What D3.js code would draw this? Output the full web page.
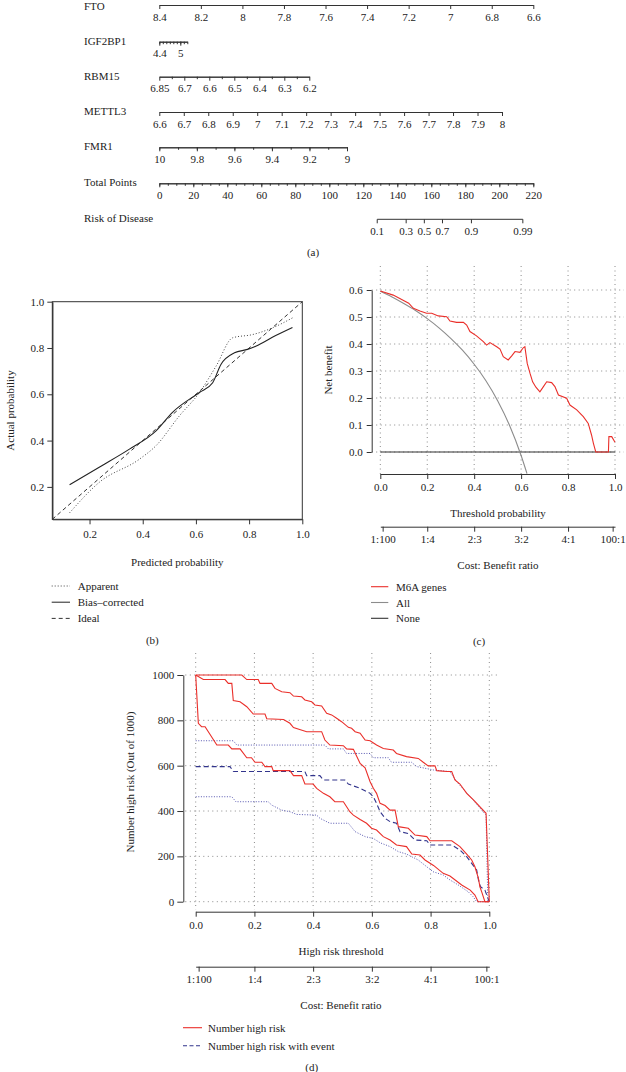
<!DOCTYPE html>
<html><head><meta charset="utf-8">
<script src="https://cdn.jsdelivr.net/npm/d3@7/dist/d3.min.js"></script>
<style>
html,body{margin:0;padding:0;background:#fff;}
svg text{font-family:"Liberation Serif","DejaVu Serif",serif;fill:#222;}
</style></head>
<body><svg id="c" width="626" height="1072"></svg>
<script>
// ---------- Panel (a) nomogram data ----------
const ftoTicks = [8.4,8.2,8.0,7.8,7.6,7.4,7.2,7.0,6.8,6.6];
const ftoLabels = ["8.4","8.2","8","7.8","7.6","7.4","7.2","7","6.8","6.6"];
const igfTicks = [4.4,4.5,4.6,4.7,4.8,4.9,5.0,5.1,5.2];
const igfLabelVals = [4.4,5.0];
const igfLabels = ["4.4","5"];
const rbmMajor = [6.8,6.7,6.6,6.5,6.4,6.3,6.2];
const rbmLabels = ["6.85","6.7","6.6","6.5","6.4","6.3","6.2"];
const rbmMinor = [6.75,6.65,6.55,6.45,6.35,6.25];
const mettlTicks = [6.6,6.7,6.8,6.9,7.0,7.1,7.2,7.3,7.4,7.5,7.6,7.7,7.8,7.9,8.0];
const mettlLabels = ["6.6","6.7","6.8","6.9","7","7.1","7.2","7.3","7.4","7.5","7.6","7.7","7.8","7.9","8"];
const fmrTicks = [10,9.9,9.8,9.7,9.6,9.5,9.4,9.3,9.2,9.1,9];
const fmrLabelVals = [10,9.8,9.6,9.4,9.2,9];
const fmrLabels = ["10","9.8","9.6","9.4","9.2","9"];
const pointsMajor = [0,20,40,60,80,100,120,140,160,180,200,220];
const pointsMinor = d3.range(0,221,5);
const riskTicks = [0.1,0.3,0.5,0.7,0.9,0.99];
const riskLabels = ["0.1","0.3","0.5","0.7","0.9","0.99"];
const riskMidPoints = 155.9;   // total points where risk = 0.5
const riskSlope = 0.0793;      // logit per point

// ---------- Panel (b) calibration ----------
const calTicks = [0.2,0.4,0.6,0.8,1.0];
const apparent = [[0.125,0.088],[0.238,0.221],[0.388,0.32],[0.45,0.378],[0.538,0.507],[0.613,0.607],[0.676,0.722],[0.738,0.844],[0.813,0.858],[0.888,0.887],[0.963,0.93]];
const biasCorrected = [[0.125,0.209],[0.238,0.286],[0.35,0.363],[0.45,0.442],[0.512,0.522],[0.613,0.608],[0.663,0.65],[0.694,0.729],[0.745,0.779],[0.794,0.794],[0.825,0.808],[0.9,0.854],[0.963,0.889]];
const ideal = [[0.06,0.06],[1,1]];

// ---------- Panel (c) decision curve ----------
const dcaXTicks = [0,0.2,0.4,0.6,0.8,1.0];
const dcaYTicks = [0,0.1,0.2,0.3,0.4,0.5,0.6];
const costTickVals = [0.01,0.2,0.4,0.6,0.8,0.99];
const costLabels = ["1:100","1:4","2:3","3:2","4:1","100:1"];
const m6a = [[0,0.596],[0.055,0.581],[0.121,0.551],[0.141,0.532],[0.169,0.522],[0.197,0.514],[0.219,0.514],[0.247,0.504],[0.283,0.501],[0.297,0.485],[0.325,0.48],[0.354,0.48],[0.368,0.47],[0.382,0.446],[0.41,0.43],[0.439,0.409],[0.453,0.396],[0.467,0.405],[0.496,0.39],[0.51,0.381],[0.524,0.353],[0.545,0.341],[0.56,0.356],[0.574,0.372],[0.595,0.369],[0.609,0.386],[0.616,0.39],[0.626,0.328],[0.638,0.291],[0.649,0.26],[0.663,0.24],[0.68,0.223],[0.695,0.242],[0.709,0.26],[0.73,0.257],[0.744,0.242],[0.759,0.211],[0.794,0.199],[0.808,0.174],[0.837,0.156],[0.865,0.131],[0.886,0.106],[0.9,0.063],[0.908,0.032],[0.918,0.0],[0.972,0.0],[0.974,0.057],[0.986,0.057],[1.0,0.036]];
const allCurve = [[0,0.595],[0.05,0.574],[0.1,0.55],[0.15,0.524],[0.2,0.494],[0.25,0.46],[0.3,0.421],[0.35,0.377],[0.4,0.325],[0.45,0.264],[0.5,0.19],[0.55,0.10],[0.6,-0.013],[0.625,-0.08]];
const noneCurve = [[0,0],[1,0]];

// ---------- Panel (d) clinical impact ----------
const ciYTicks = [0,200,400,600,800,1000];
const nhrUpper = [[0,1000],[0.157,1000],[0.174,980],[0.213,980],[0.219,963],[0.259,963],[0.27,941],[0.293,926],[0.321,922],[0.333,907],[0.361,904],[0.372,890],[0.395,882],[0.406,868],[0.429,863],[0.446,831],[0.463,824],[0.48,809],[0.497,794],[0.52,769],[0.531,765],[0.543,750],[0.56,743],[0.577,713],[0.594,710],[0.616,691],[0.639,676],[0.673,669],[0.684,654],[0.718,640],[0.758,632],[0.775,615],[0.792,599],[0.815,599],[0.821,578],[0.855,574],[0.872,574],[0.883,537],[0.9,519],[0.923,478],[0.946,449],[0.989,390],[1.0,0]];
const nhr = [[0,1000],[0.026,980],[0.1,980],[0.111,963],[0.123,963],[0.128,887],[0.151,882],[0.174,860],[0.196,828],[0.236,828],[0.242,807],[0.299,804],[0.321,787],[0.333,768],[0.378,750],[0.429,750],[0.44,713],[0.457,691],[0.503,688],[0.514,674],[0.537,672],[0.56,610],[0.577,591],[0.594,529],[0.605,500],[0.616,478],[0.628,434],[0.645,424],[0.662,404],[0.679,404],[0.69,331],[0.724,324],[0.747,294],[0.787,287],[0.798,269],[0.872,269],[0.9,243],[0.923,210],[0.94,184],[0.951,154],[0.963,103],[0.968,66],[0.975,40],[0.985,0],[1.0,0]];
const nhrLower = [[0,1000],[0.009,787],[0.02,772],[0.032,772],[0.072,691],[0.111,691],[0.123,674],[0.151,674],[0.174,635],[0.19,635],[0.202,615],[0.225,615],[0.236,596],[0.259,596],[0.264,578],[0.321,578],[0.333,556],[0.361,556],[0.372,519],[0.4,519],[0.412,500],[0.435,478],[0.457,463],[0.474,441],[0.503,441],[0.525,397],[0.537,382],[0.56,363],[0.582,346],[0.599,324],[0.616,316],[0.639,287],[0.662,272],[0.684,250],[0.718,243],[0.736,210],[0.764,206],[0.781,184],[0.81,160],[0.843,125],[0.866,113],[0.906,74],[0.935,51],[0.951,29],[0.962,0],[1.0,0]];
const nhreUpper = [[0,710],[0.128,710],[0.14,691],[0.44,691],[0.452,674],[0.503,674],[0.514,654],[0.594,654],[0.605,635],[0.656,635],[0.667,615],[0.735,615],[0.753,596],[0.81,581],[0.866,574],[0.889,529],[0.923,481],[0.989,382],[0.995,0]];
const nhre = [[0,596],[0.117,596],[0.128,574],[0.372,574],[0.378,556],[0.423,556],[0.435,537],[0.508,537],[0.52,519],[0.56,500],[0.594,478],[0.605,463],[0.616,434],[0.628,397],[0.645,368],[0.662,353],[0.684,346],[0.696,309],[0.724,301],[0.747,272],[0.787,269],[0.798,250],[0.872,250],[0.9,228],[0.923,199],[0.94,169],[0.957,140],[0.963,96],[0.97,66],[0.985,51],[1.0,0]];
const nhreLower = [[0,463],[0.123,463],[0.137,441],[0.247,441],[0.259,426],[0.293,404],[0.321,397],[0.344,385],[0.412,382],[0.423,368],[0.457,346],[0.52,346],[0.543,309],[0.577,287],[0.605,279],[0.628,260],[0.662,243],[0.69,221],[0.718,210],[0.758,184],[0.787,154],[0.809,132],[0.843,118],[0.866,96],[0.894,74],[0.928,44],[0.945,22],[0.957,0],[1.0,0]];

// ================= drawing =================
const svg = d3.select("#c");
svg.append("rect").attr("width",626).attr("height",1072).attr("fill","#fff");
const FS = 11;
const RED = "#ea2f2a", NAVY = "#32348c", GRIDC = "#8a8a8a";

function styleAxis(g, labelSize){
  g.select(".domain").attr("stroke","#333").attr("stroke-width",1);
  g.selectAll(".tick line").attr("stroke","#333").attr("stroke-width",1);
  g.selectAll(".tick text").attr("font-size",labelSize||FS).attr("fill","#222")
    .attr("font-family",'"Liberation Serif",serif');
}
function txt(x,y,s,anchor,rot){
  const t = svg.append("text").attr("x",x).attr("y",y).attr("font-size",FS)
    .attr("text-anchor",anchor||"start").attr("dominant-baseline","central").text(s);
  if(rot) t.attr("transform",`rotate(${rot},${x},${y})`);
  return t;
}

// ----- Panel (a) -----
const labX = 84, axL = 159.3;
const rowY = [5, 41.7, 76.7, 112, 147.3, 183.3, 219.3];
function nomoRow(y, name, scale, majorVals, labels, minorVals, labelVals, labY){
  txt(labX, labY!==undefined ? labY : y-1, name);
  if(minorVals){
    const gm = svg.append("g").attr("transform",`translate(0,${y})`)
      .call(d3.axisBottom(scale).tickValues(minorVals).tickSize(2.5).tickSizeOuter(0).tickFormat(""));
    styleAxis(gm);
  }
  const lv = labelVals || majorVals;
  const g = svg.append("g").attr("transform",`translate(0,${y})`)
    .call(d3.axisBottom(scale).tickValues(lv).tickSize(4).tickSizeOuter(0).tickPadding(4)
      .tickFormat((d,i)=>labels[i]));
  styleAxis(g);
}
nomoRow(rowY[0],"FTO", d3.scaleLinear().domain([8.4,6.6]).range([axL,533.3]), ftoTicks, ftoLabels, null, null, 6);
nomoRow(rowY[1],"IGF2BP1", d3.scaleLinear().domain([4.4,5.2]).range([axL,187.3]), null, igfLabels, igfTicks, igfLabelVals);
nomoRow(rowY[2],"RBM15", d3.scaleLinear().domain([6.8,6.2]).range([axL,309.3]), rbmMajor, rbmLabels, rbmMinor);
nomoRow(rowY[3],"METTL3", d3.scaleLinear().domain([6.6,8.0]).range([axL,502]), mettlTicks, mettlLabels);
nomoRow(rowY[4],"FMR1", d3.scaleLinear().domain([10,9]).range([axL,347]), null, fmrLabels, fmrTicks, fmrLabelVals);
const ptsScale = d3.scaleLinear().domain([0,220]).range([axL,533.3]);
nomoRow(rowY[5],"Total Points", ptsScale, pointsMajor, pointsMajor.map(String), pointsMinor);
// risk axis: mapped onto total points through logit
const logit = p => Math.log(p/(1-p));
const riskScale = p => ptsScale(riskMidPoints + logit(p)/riskSlope);
txt(labX, rowY[6]-1, "Risk of Disease");
{
  const g = svg.append("g").attr("transform",`translate(0,${rowY[6]})`);
  g.append("line").attr("x1",riskScale(riskTicks[0])).attr("x2",riskScale(riskTicks[riskTicks.length-1]))
    .attr("stroke","#333");
  riskTicks.forEach((p,i)=>{
    g.append("line").attr("x1",riskScale(p)).attr("x2",riskScale(p)).attr("y1",0).attr("y2",4).attr("stroke","#333");
    g.append("text").attr("x",riskScale(p)).attr("y",12).attr("font-size",FS).attr("text-anchor","middle")
      .attr("dominant-baseline","central").text(riskLabels[i]);
  });
}
txt(313, 252, "(a)", "middle");

// ----- Panel (b) -----
{
  const x = d3.scaleLinear().domain([0.06,1]).range([52.3,302.3]);
  const y = d3.scaleLinear().domain([0.06,1]).range([519.3,301.7]);
  svg.append("rect").attr("x",52.3).attr("y",301.7).attr("width",250).attr("height",217.6)
    .attr("fill","none").attr("stroke","#333").attr("stroke-width",1);
  const gl = svg.append("g").attr("transform","translate(52.3,0)")
    .call(d3.axisLeft(y).tickValues(calTicks).tickSize(5).tickSizeOuter(0).tickPadding(3).tickFormat(d3.format(".1f")));
  styleAxis(gl); gl.select(".domain").attr("stroke-width",1.3);
  const gb = svg.append("g").attr("transform","translate(0,519.3)")
    .call(d3.axisBottom(x).tickValues(calTicks).tickSize(5).tickSizeOuter(0).tickPadding(6).tickFormat(d3.format(".1f")));
  styleAxis(gb);
  const line = d3.line().x(d=>x(d[0])).y(d=>y(d[1])).curve(d3.curveMonotoneX);
  svg.append("path").attr("d",line(ideal)).attr("fill","none").attr("stroke","#333").attr("stroke-width",1).attr("stroke-dasharray","4,3");
  svg.append("path").attr("d",line(apparent)).attr("fill","none").attr("stroke","#444").attr("stroke-width",1).attr("stroke-dasharray","1,2");
  svg.append("path").attr("d",line(biasCorrected)).attr("fill","none").attr("stroke","#222").attr("stroke-width",1.1);
  txt(10, 410.5, "Actual probability", "middle", -90);
  txt(177.3, 561.7, "Predicted probability", "middle");
  const leg = [["Apparent","1,2","#444"],["Bias\u2013corrected",null,"#222"],["Ideal","4,3","#333"]];
  leg.forEach((l,i)=>{
    const yy = 586 + i*16.2;
    const ln = svg.append("line").attr("x1",51.7).attr("x2",70).attr("y1",yy).attr("y2",yy).attr("stroke",l[2]).attr("stroke-width",1);
    if(l[1]) ln.attr("stroke-dasharray",l[1]);
    txt(77.7, yy, l[0]);
  });
  txt(152.3, 640, "(b)", "middle");
}

// ----- Panel (c) -----
{
  const x = d3.scaleLinear().domain([0,1]).range([380.3,615]);
  const y = d3.scaleLinear().domain([0,0.6]).range([452,290]);
  const regL = 371.7, regR = 624, regT = 266, regB = 474;
  const grid = svg.append("g");
  dcaXTicks.forEach(v=>grid.append("line").attr("x1",x(v)).attr("x2",x(v)).attr("y1",regT).attr("y2",regB)
    .attr("stroke",GRIDC).attr("stroke-dasharray","1,3.5"));
  dcaYTicks.forEach(v=>grid.append("line").attr("x1",regL).attr("x2",regR).attr("y1",y(v)).attr("y2",y(v))
    .attr("stroke",GRIDC).attr("stroke-dasharray","1,3.5"));
  svg.append("clipPath").attr("id","clipc").append("rect").attr("x",regL).attr("y",regT).attr("width",regR-regL).attr("height",regB-regT);
  const line = d3.line().x(d=>x(d[0])).y(d=>y(d[1]));
  const lg = svg.append("g").attr("clip-path","url(#clipc)");
  lg.append("path").attr("d",line(noneCurve)).attr("fill","none").attr("stroke","#333").attr("stroke-width",1.1);
  lg.append("path").attr("d",d3.line().x(d=>x(d[0])).y(d=>y(d[1])).curve(d3.curveMonotoneX)(allCurve))
    .attr("fill","none").attr("stroke","#8c8c8c").attr("stroke-width",1.1);
  lg.append("path").attr("d",line(m6a)).attr("fill","none").attr("stroke",RED).attr("stroke-width",1.1);
  const gl = svg.append("g").attr("transform",`translate(${regL},0)`)
    .call(d3.axisLeft(y).tickValues(dcaYTicks).tickSize(5).tickSizeOuter(0).tickPadding(4).tickFormat(d3.format(".1f")));
  styleAxis(gl);
  const gb = svg.append("g").attr("transform",`translate(0,${regB})`)
    .call(d3.axisBottom(x).tickValues(dcaXTicks).tickSize(5).tickSizeOuter(0).tickPadding(4).tickFormat(d3.format(".1f")));
  styleAxis(gb);
  txt(328, 370, "Net benefit", "middle", -90);
  txt(498, 513.3, "Threshold probability", "middle");
  const gc = svg.append("g").attr("transform","translate(0,526.7)")
    .call(d3.axisBottom(x).tickValues(costTickVals).tickSize(5).tickSizeOuter(0).tickPadding(4).tickFormat((d,i)=>costLabels[i]));
  styleAxis(gc);
  txt(498, 565, "Cost: Benefit ratio", "middle");
  const leg = [["M6A genes",RED],["All","#8c8c8c"],["None","#333"]];
  leg.forEach((l,i)=>{
    const yy = 586.7 + i*15.8;
    svg.append("line").attr("x1",371).attr("x2",388.3).attr("y1",yy).attr("y2",yy).attr("stroke",l[1]).attr("stroke-width",1.1);
    txt(396, yy, l[0]);
  });
  txt(479, 640.7, "(c)", "middle");
}

// ----- Panel (d) -----
{
  const x = d3.scaleLinear().domain([0,1]).range([195.7,489.3]);
  const y = d3.scaleLinear().domain([0,1000]).range([901.7,675]);
  const regL = 183.3, regR = 498, regT = 653, regB = 911.7;
  const grid = svg.append("g");
  dcaXTicks.forEach(v=>grid.append("line").attr("x1",x(v)).attr("x2",x(v)).attr("y1",regT).attr("y2",regB-2)
    .attr("stroke",GRIDC).attr("stroke-dasharray","1,3.5"));
  ciYTicks.forEach(v=>grid.append("line").attr("x1",regL+2).attr("x2",regR).attr("y1",y(v)).attr("y2",y(v))
    .attr("stroke",GRIDC).attr("stroke-dasharray","1,3.5"));
  const line = d3.line().x(d=>x(d[0])).y(d=>y(d[1]));
  const draw = (data,color,dash,w)=>{
    const p = svg.append("path").attr("d",line(data)).attr("fill","none").attr("stroke",color).attr("stroke-width",w||1.1);
    if(dash) p.attr("stroke-dasharray",dash);
  };
  draw(nhreUpper, "#5656b0", "1,1.6", 1);
  draw(nhreLower, "#5656b0", "1,1.6", 1);
  draw(nhre, NAVY, "5,3", 1.1);
  draw(nhrUpper, RED, null, 1.1);
  draw(nhrLower, RED, null, 1.1);
  draw(nhr, RED, null, 1.1);
  const gl = svg.append("g").attr("transform",`translate(${regL},0)`)
    .call(d3.axisLeft(y).tickValues(ciYTicks).tickSize(6).tickSizeOuter(0).tickPadding(3).tickFormat(d3.format("d")));
  styleAxis(gl);
  const gb = svg.append("g").attr("transform",`translate(0,${regB})`)
    .call(d3.axisBottom(x).tickValues(dcaXTicks).tickSize(5).tickSizeOuter(0).tickPadding(5).tickFormat(d3.format(".1f")));
  styleAxis(gb);
  txt(130, 782, "Number high risk (Out of 1000)", "middle", -90);
  txt(341, 951, "High risk threshold", "middle");
  const gc = svg.append("g").attr("transform","translate(0,966.7)")
    .call(d3.axisBottom(x).tickValues(costTickVals).tickSize(5).tickSizeOuter(0).tickPadding(4).tickFormat((d,i)=>costLabels[i]));
  styleAxis(gc);
  txt(341, 1005, "Cost: Benefit ratio", "middle");
  svg.append("line").attr("x1",183).attr("x2",202).attr("y1",1027.7).attr("y2",1027.7).attr("stroke",RED).attr("stroke-width",1.1);
  txt(208, 1027.7, "Number high risk");
  svg.append("line").attr("x1",183).attr("x2",202).attr("y1",1045.7).attr("y2",1045.7).attr("stroke",NAVY).attr("stroke-width",1.1).attr("stroke-dasharray","4,2.5");
  txt(208, 1045.7, "Number high risk with event");
  txt(311.7, 1066.7, "(d)", "middle");
}
</script></body></html>
